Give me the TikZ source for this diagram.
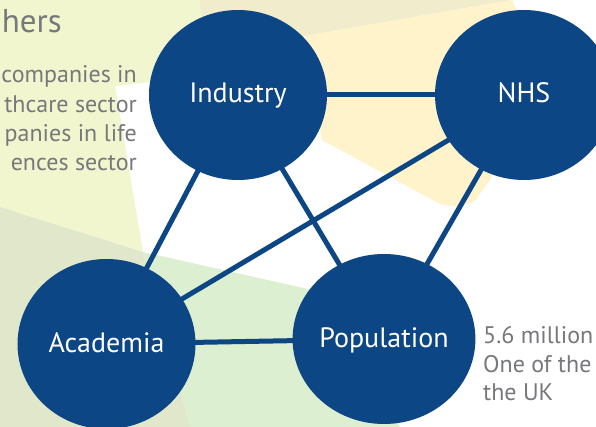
\documentclass[tikz,border=0pt]{standalone}
\usepackage{fontspec}
\setmainfont{PT Sans}
\usetikzlibrary{shapes.geometric}
\pgfdeclarelayer{bg}
\pgfsetlayers{bg,main}
\definecolor{navy}{HTML}{0C4684}
\definecolor{greytxt}{HTML}{77787B}
\definecolor{ygreen}{HTML}{F2F6CE}
\definecolor{beige}{HTML}{F1EDCC}
\definecolor{cream}{HTML}{FEF3CB}
\definecolor{ggreen}{HTML}{E0E7CB}
\definecolor{lgreen}{HTML}{DCEFD0}
\begin{document}
\begin{tikzpicture}[x=1pt,y=-1pt,
  hub/.style={ellipse, fill=navy, text=white, minimum width=178pt, minimum height=170pt,
    inner sep=0pt, font=\fontsize{28}{30}\selectfont, text height=18pt, text depth=2pt},
  link/.style={draw=navy, line width=5pt},
  side/.style={text=greytxt, font=\fontsize{24}{29}\selectfont, inner sep=0pt}]
\useasboundingbox (0,0) rectangle (596,427);
\clip (0,0) rectangle (596,427);

\node[hub] (ind) at (238,95) {Industry};
\node[hub] (nhs) at (524,95) {NHS};
\node[hub] (aca) at (106.5,344) {Academia};
\node[hub] (pop) at (384,339) {Population};

\node[side, anchor=base east, font=\fontsize{33}{36}\selectfont] (title) at (62,33) {hers};
\node[side, anchor=base east] (l1) at (137,83) {companies in};
\node[side, anchor=base east] (l2) at (137,113) {thcare sector};
\node[side, anchor=base east] (l3) at (137,142) {panies in life};
\node[side, anchor=base east] (l4) at (137,171) {ences sector};

\node[side, anchor=base west] (r1) at (483,343) {5.6 million};
\node[side, anchor=base west] (r2) at (483,372) {One of the};
\node[side, anchor=base west] (r3) at (483,400) {the UK};

\begin{pgfonlayer}{bg}
\fill[white] (0,0) rectangle (596,427);
\fill[ygreen] (0,0) -- (206,0) -- (206,72) -- (150,82) -- (115,86) -- (143,252) -- (0,207) -- cycle;
\fill[beige] (200,0) -- (512,0) -- (305,36) -- (206,72) -- cycle;
\fill[cream] (305,36) -- (512,0) -- (540,60) -- (490,180) -- (474,202) -- (458,207) -- (440,204) -- (322,140) -- cycle;
\fill[ggreen] (0,207) -- (143,252) -- (190,427) -- (0,427) -- cycle;
\fill[lgreen] (143,252) -- (330,294) -- (400,427) -- (190,427) -- cycle;
\draw[link] (ind.center) -- (nhs.center);
\draw[link] (ind.center) -- (aca.center);
\draw[link] (ind.center) -- (pop.center);
\draw[link] (nhs.center) -- (aca.center);
\draw[link] (nhs.center) -- (pop.center);
\draw[link] (aca.center) -- (pop.center);
\end{pgfonlayer}
\end{tikzpicture}
\end{document}
